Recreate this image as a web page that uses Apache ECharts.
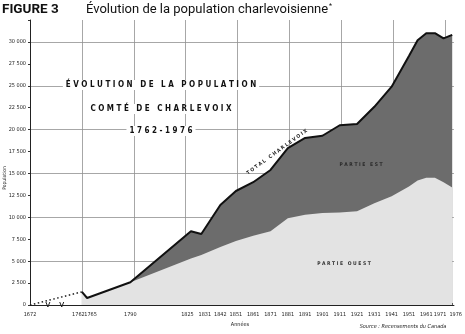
<!DOCTYPE html>
<html>
<head>
<meta charset="utf-8">
<title>Évolution de la population charlevoisienne</title>
<script src="https://cdn.jsdelivr.net/npm/echarts@6/dist/echarts.min.js"></script>
<style>
    html, body { margin: 0; padding: 0; background: #fff; }
    #main { width: 465px; height: 334px; }
</style>
</head>
<body>
<div id="main"></div>
<script>
// recensements (années) et population
var years = [1762, 1765, 1790, 1825, 1831, 1842, 1851, 1861, 1871, 1881, 1891, 1901, 1911, 1921, 1931, 1941, 1951, 1956, 1961, 1966, 1971, 1976];
var total = [1500, 800, 2600, 8400, 8100, 11400, 13000, 14000, 15400, 17900, 19050, 19300, 20500, 20650, 22600, 24900, 28400, 30200, 31000, 31000, 30400, 30800];
var ouest = [1500, 800, 2600, 5300, 5700, 6600, 7300, 7900, 8400, 9900, 10300, 10500, 10550, 10700, 11600, 12400, 13500, 14200, 14500, 14500, 14000, 13400];
// avant 1762 : ligne pointillée
var earlyYears = [1672, 1762];
var earlyPop = [0, 1500];
var tickYears = [1672, 1762, 1765, 1790, 1825, 1831, 1842, 1851, 1861, 1871, 1881, 1891, 1901, 1911, 1921, 1931, 1941, 1951, 1961, 1971, 1976];

// axe brisé : 1672-1762 comprimé (facteur 3)
function pos(y) { return y >= 1762 ? y : 1762 - (1762 - y) / 3; }
function yearOf(p) { return p >= 1762 ? p : 1762 - (1762 - p) * 3; }

function pts(xs, vs) {
    var out = [];
    for (var i = 0; i < xs.length; i++) out.push([pos(xs[i]), vs[i]]);
    return out;
}

var smallFont = "'Liberation Sans Narrow', 'DejaVu Sans Condensed', sans-serif";

var myChart = echarts.init(document.getElementById('main'));
var option = {
    animation: false,
    backgroundColor: '#fff',
    grid: { left: 30, right: 5, top: 20, bottom: 29 },
    xAxis: [{
        type: 'value',
        min: 1732,
        max: 1977,
        axisLine: { show: true, lineStyle: { color: '#222', width: 1 } },
        splitLine: { show: false },
        axisTick: {
            show: true, inside: true, length: 2,
            customValues: tickYears.map(pos),
            lineStyle: { color: '#333' }
        },
        axisLabel: {
            customValues: tickYears.map(pos),
            margin: 7,
            fontSize: 5.5,
            color: '#222',
            fontFamily: smallFont,
            formatter: function (v) {
                var y = Math.round(yearOf(v));
                if (y === 1762 || y === 1825 || y === 1971) return '{l|' + y + '}';
                if (y === 1765 || y === 1831 || y === 1976) return '{r|' + y + '}';
                return '{n|' + y + '}';
            },
            rich: {
                n: { fontSize: 5.5, fontFamily: smallFont, color: '#222' },
                l: { fontSize: 5.5, fontFamily: smallFont, color: '#222', padding: [0, 7, 0, 0] },
                r: { fontSize: 5.5, fontFamily: smallFont, color: '#222', padding: [0, 0, 0, 7] }
            }
        }
    }, {
        // grille verticale tous les 30 ans à partir de 1762
        type: 'value',
        position: 'top',
        min: 1732,
        max: 1977,
        interval: 30,
        axisLine: { show: false },
        axisTick: { show: false },
        axisLabel: { show: false },
        splitLine: { show: true, showMinLine: false, showMaxLine: false, lineStyle: { color: '#909090', width: 0.8 } }
    }],
    yAxis: {
        type: 'value',
        min: 0,
        max: 32500,
        interval: 2500,
        axisLine: { show: true, lineStyle: { color: '#222', width: 1 } },
        axisTick: { show: true, length: 2, lineStyle: { color: '#333' } },
        splitLine: {
            show: true, showMaxLine: false,
            lineStyle: { color: ['#909090', 'rgba(0,0,0,0)'], width: 0.8 }
        },
        axisLabel: {
            margin: 4,
            fontSize: 5.5,
            color: '#222',
            fontFamily: smallFont,
            formatter: function (v) {
                if (v > 30000) return '';
                if (v === 0) return '0';
                var r = String(v % 1000);
                while (r.length < 3) r = '0' + r;
                return Math.floor(v / 1000) + ' ' + r;
            }
        }
    },
    series: [{
        name: 'avant 1762',
        type: 'line',
        data: pts(earlyYears, earlyPop),
        symbol: 'none',
        lineStyle: { color: '#222', width: 1.5, type: [1.5, 2.5] },
        z: 4
    }, {
        name: 'Total Charlevoix (aire)',
        type: 'line',
        data: pts(years, total),
        symbol: 'none',
        lineStyle: { width: 0 },
        areaStyle: { color: '#6c6c6c', opacity: 1 },
        z: 2
    }, {
        name: 'Partie ouest',
        type: 'line',
        data: pts(years, ouest),
        symbol: 'none',
        lineStyle: { width: 0 },
        areaStyle: { color: '#e3e3e3', opacity: 1 },
        z: 2
    }, {
        name: 'Total Charlevoix',
        type: 'line',
        data: pts(years, total),
        symbol: 'none',
        lineStyle: { color: '#111', width: 2 },
        z: 4
    }]
};
myChart.setOption(option);

// textes et repères décoratifs
var b1 = myChart.convertToPixel({ xAxisIndex: 0, yAxisIndex: 0 }, [pos(1703), 0]);
var b2 = myChart.convertToPixel({ xAxisIndex: 0, yAxisIndex: 0 }, [pos(1727), 0]);
function vMark(p) {
    return {
        type: 'polyline',
        shape: { points: [[p[0] - 2, p[1] - 3], [p[0], p[1] + 2], [p[0] + 2, p[1] - 3]] },
        style: { stroke: '#222', fill: null, lineWidth: 1 },
        z: 10
    };
}
var titleFont = "'DejaVu Sans Condensed', 'DejaVu Sans', sans-serif";
function inner(txt, y) {
    return {
        type: 'text', x: 161, y: y, z: 10,
        style: {
            text: txt, align: 'center', verticalAlign: 'middle',
            font: 'bold 8px ' + titleFont, fill: '#111',
            backgroundColor: '#fff', padding: [1, 3]
        }
    };
}
myChart.setOption({
    graphic: [
        { type: 'text', x: 2, y: 3, style: { text: 'FIGURE 3', font: 'bold 13.5px Roboto, sans-serif', fill: '#111' } },
        { type: 'text', x: 86, y: 3, style: { text: 'Évolution de la population charlevoisienne', font: '13px Roboto, sans-serif', fill: '#111' } },
        { type: 'text', x: 329, y: 3, style: { text: '*', font: '7px Roboto, sans-serif', fill: '#111' } },
        inner('É V O L U T I O N   D E   L A   P O P U L A T I O N', 85),
        inner('C O M T É   D E   C H A R L E V O I X', 109),
        inner('1 7 6 2 - 1 9 7 6', 131),
        {
            type: 'text', x: 277, y: 152, rotation: 36 * Math.PI / 180, z: 10,
            style: { text: 'T O T A L   C H A R L E V O I X', font: 'bold 5px ' + titleFont, fill: '#222', align: 'center', verticalAlign: 'middle' }
        },
        { type: 'text', x: 361, y: 165, z: 10, style: { text: 'P A R T I E   E S T', font: 'bold 5px ' + titleFont, fill: '#2a2a2a', align: 'center', verticalAlign: 'middle' } },
        { type: 'text', x: 344, y: 264, z: 10, style: { text: 'P A R T I E   O U E S T', font: 'bold 5px ' + titleFont, fill: '#333', align: 'center', verticalAlign: 'middle' } },
        { type: 'text', x: 5, y: 178, rotation: Math.PI / 2, style: { text: 'Population', font: '5px ' + smallFont, fill: '#222', align: 'center', verticalAlign: 'middle' } },
        { type: 'text', x: 240, y: 325, style: { text: 'Années', font: '5.5px ' + smallFont, fill: '#222', align: 'center', verticalAlign: 'middle' } },
        { type: 'text', x: 403, y: 327, style: { text: 'Source : Recensements du Canada', font: 'italic 5.5px ' + smallFont, fill: '#222', align: 'center', verticalAlign: 'middle' } },
        vMark(b1),
        vMark(b2)
    ]
});
</script>
</body>
</html>
